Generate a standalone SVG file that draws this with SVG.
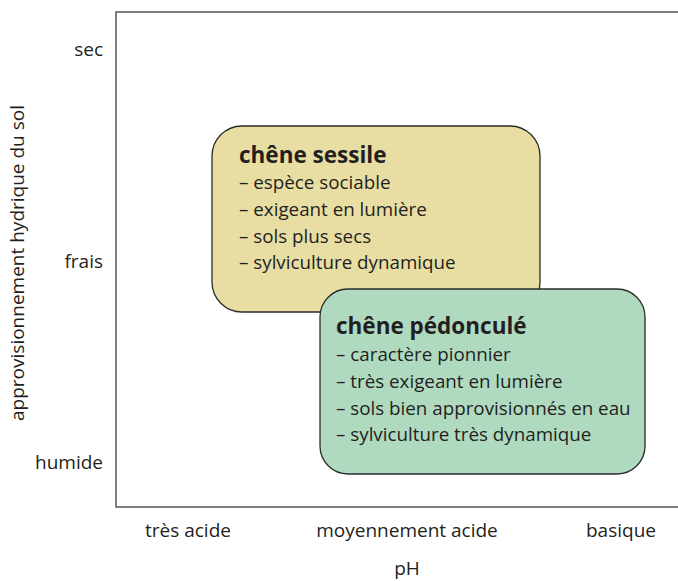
<svg xmlns="http://www.w3.org/2000/svg" width="678" height="581" viewBox="0 0 678 581">
<style>
text{font-family:"Open Sans","Noto Sans","Liberation Sans",sans-serif;fill:#231f20}
.ax{font-size:19px}
.t{font-size:22.5px;font-weight:bold}
.i{font-size:18.8px}
.box{stroke:#2b2b2b;stroke-width:1.3}
</style>
<rect width="678" height="581" fill="#fff"/>
<g id="axes">
<polyline points="678,12 116,12 116,507 678,507" fill="none" stroke="#555" stroke-width="1.5"/>
</g>
<g id="y-labels" text-anchor="end">
<text x="103" y="56" class="ax">sec</text>
<text x="103" y="268" class="ax">frais</text>
<text x="103" y="469" class="ax">humide</text>
</g>
<g id="x-labels" text-anchor="middle">
<text x="188" y="537" class="ax">très acide</text>
<text x="407" y="537" class="ax">moyennement acide</text>
<text x="621" y="537" class="ax">basique</text>
<text x="407" y="575" class="ax">pH</text>
</g>
<text class="ax" text-anchor="middle" transform="translate(24,263) rotate(-90)">approvisionnement hydrique du sol</text>
<g id="chene-sessile">
<rect class="box" x="212" y="126" width="328" height="186" rx="30" fill="#e8dea3"/>
<text x="239" y="163" class="t">chêne sessile</text>
<text x="239" y="189" class="i">– espèce sociable</text>
<text x="239" y="216" class="i">– exigeant en lumière</text>
<text x="239" y="243" class="i">– sols plus secs</text>
<text x="239" y="269" class="i">– sylviculture dynamique</text>
</g>
<g id="chene-pedoncule">
<rect class="box" x="320" y="289" width="325" height="185" rx="28" fill="#afdac0"/>
<text x="336" y="334" class="t">chêne pédonculé</text>
<text x="336" y="361" class="i">– caractère pionnier</text>
<text x="336" y="388" class="i">– très exigeant en lumière</text>
<text x="336" y="415" class="i">– sols bien approvisionnés en eau</text>
<text x="336" y="441" class="i">– sylviculture très dynamique</text>
</g>
<g id="connectors"/>
</svg>
